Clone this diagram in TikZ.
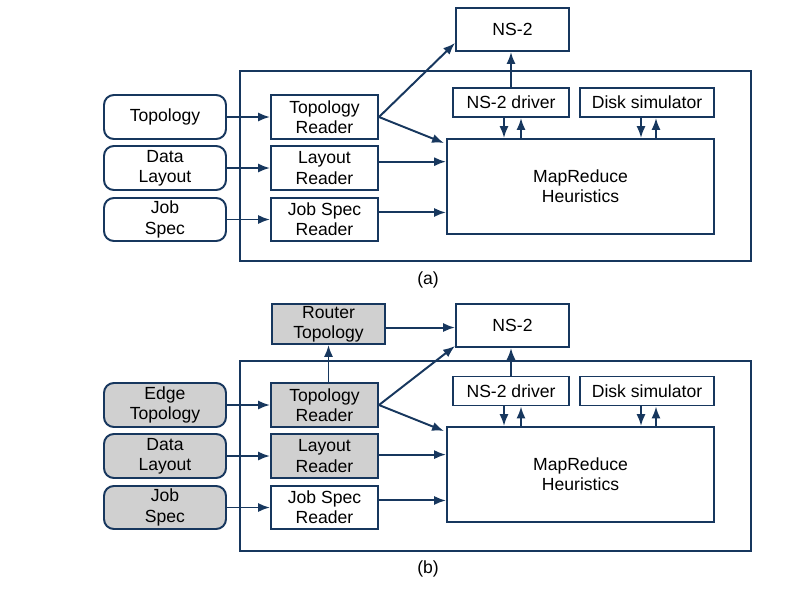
\documentclass[tikz,border=0pt]{standalone}
\usepackage{fontspec}
\setmainfont{Liberation Sans}
\usetikzlibrary{arrows.meta,positioning,calc}
\definecolor{navy}{RGB}{23,55,94}
\definecolor{shade}{RGB}{208,208,208}
\newdimen\pxu \pxu=0.025cm
\tikzset{
  box/.style={draw=navy, line width=1.4pt, fill=white, align=center, inner sep=0pt,
    font=\fontsize{12.5}{14.5}\selectfont},
  inbox/.style={box, rounded corners=7pt},
  grey/.style={fill=shade},
  frame/.style={draw=navy, line width=1.4pt},
  arr/.style={draw=navy, line width=1.4pt, -{Latex[length=8.5pt,width=6.5pt]}},
}
\begin{document}
\begin{tikzpicture}[x=0.025cm, y=-0.025cm]
\useasboundingbox (0,0) rectangle (800,600);
% (a)
\draw[frame] (240,71) rectangle (751,261);
\node[box, minimum width=113\pxu, minimum height=43\pxu] (nsA) at (512.5,29.5) {NS-2};
\node[inbox, minimum width=122\pxu, minimum height=44\pxu] (topoA) at (165,117) {Topology};
\node[inbox, minimum width=122\pxu, minimum height=44\pxu] (dataA) at (165,168) {Data\\Layout};
\node[inbox, minimum width=122\pxu, minimum height=43\pxu] (jobA) at (165,219.5) {Job\\Spec};
\node[box, minimum width=107\pxu, minimum height=44\pxu] (toprA) at (324.5,117) {Topology\\Reader};
\node[box, minimum width=107\pxu, minimum height=44\pxu] (layrA) at (324.5,168) {Layout\\Reader};
\node[box, minimum width=107\pxu, minimum height=43\pxu] (jobrA) at (324.5,219.5) {Job Spec\\Reader};
\node[box, minimum width=116\pxu, minimum height=29\pxu] (drvA) at (511,102.5) {NS-2 driver};
\node[box, minimum width=134\pxu, minimum height=29\pxu] (diskA) at (647,102.5) {Disk simulator};
\node[box, minimum width=267\pxu, minimum height=95\pxu] (mrA) at (580.5,186.5) {MapReduce\\Heuristics};
\node[font=\fontsize{12.5}{14.5}\selectfont] (capA) at (428,280) {(a)};
\draw[arr] (topoA.east) -- (toprA.west);
\draw[arr] (dataA.east) -- (layrA.west);
\draw[arr] (jobA.east) -- (jobrA.west);
\draw[arr] (toprA.east) -- ($(nsA.south west)+(0,-9)$);
\draw[arr] (toprA.east) -- ($(mrA.north west)+(-2,5)$);
\draw[arr] ([yshift=4.5pt]layrA.east) -- ([yshift=4.5pt]layrA.east -| mrA.west);
\draw[arr] ([yshift=5pt]jobrA.east) -- ([yshift=5pt]jobrA.east -| mrA.west);
\draw[arr] (drvA.north) -- (drvA.north |- nsA.south);
\draw[arr] ([xshift=-7\pxu]drvA.south) -- ([xshift=-7\pxu]drvA.south |- mrA.north);
\draw[arr] ([xshift=10\pxu]drvA.south |- mrA.north) -- ([xshift=10\pxu]drvA.south);
\draw[arr] ([xshift=-6\pxu]diskA.south) -- ([xshift=-6\pxu]diskA.south |- mrA.north);
\draw[arr] ([xshift=9\pxu]diskA.south |- mrA.north) -- ([xshift=9\pxu]diskA.south);
% (b)
\draw[frame] (240,361) rectangle (751,551);
\node[box, minimum width=113\pxu, minimum height=43\pxu] (nsB) at (512.5,325.5) {NS-2};
\node[box, grey, minimum width=113\pxu, minimum height=40\pxu] (routB) at (328.5,324) {Router\\Topology};
\node[inbox, grey, minimum width=122\pxu, minimum height=44\pxu] (topoB) at (165,405) {Edge\\Topology};
\node[inbox, grey, minimum width=122\pxu, minimum height=44\pxu] (dataB) at (165,456) {Data\\Layout};
\node[inbox, grey, minimum width=122\pxu, minimum height=43\pxu] (jobB) at (165,507.5) {Job\\Spec};
\node[box, grey, minimum width=107\pxu, minimum height=44\pxu] (toprB) at (324.5,405) {Topology\\Reader};
\node[box, grey, minimum width=107\pxu, minimum height=44\pxu] (layrB) at (324.5,456) {Layout\\Reader};
\node[box, minimum width=107\pxu, minimum height=43\pxu] (jobrB) at (324.5,507.5) {Job Spec\\Reader};
\node[box, minimum width=116\pxu, minimum height=29\pxu] (drvB) at (511,391) {NS-2 driver};
\node[box, minimum width=134\pxu, minimum height=29\pxu] (diskB) at (647,391) {Disk simulator};
\node[box, minimum width=267\pxu, minimum height=95\pxu] (mrB) at (580.5,474.5) {MapReduce\\Heuristics};
\node[font=\fontsize{12.5}{14.5}\selectfont] (capB) at (428,569) {(b)};
\draw[arr] (topoB.east) -- (toprB.west);
\draw[arr] (dataB.east) -- (layrB.west);
\draw[arr] (jobB.east) -- (jobrB.west);
\draw[arr] (routB.south |- toprB.north) -- (routB.south);
\draw[arr] ([yshift=-2.5pt]routB.east) -- ([yshift=-2.5pt]routB.east -| nsB.west);
\draw[arr] (toprB.east) -- ($(nsB.south west)+(0,-2)$);
\draw[arr] (toprB.east) -- ($(mrB.north west)+(-2,5)$);
\draw[arr] ([yshift=1pt]layrB.east) -- ([yshift=1pt]layrB.east -| mrB.west);
\draw[arr] ([yshift=5pt]jobrB.east) -- ([yshift=5pt]jobrB.east -| mrB.west);
\draw[arr] (drvB.north) -- (drvB.north |- nsB.south);
\draw[arr] ([xshift=-7\pxu]drvB.south) -- ([xshift=-7\pxu]drvB.south |- mrB.north);
\draw[arr] ([xshift=10\pxu]drvB.south |- mrB.north) -- ([xshift=10\pxu]drvB.south);
\draw[arr] ([xshift=-6\pxu]diskB.south) -- ([xshift=-6\pxu]diskB.south |- mrB.north);
\draw[arr] ([xshift=9\pxu]diskB.south |- mrB.north) -- ([xshift=9\pxu]diskB.south);
\end{tikzpicture}
\end{document}
